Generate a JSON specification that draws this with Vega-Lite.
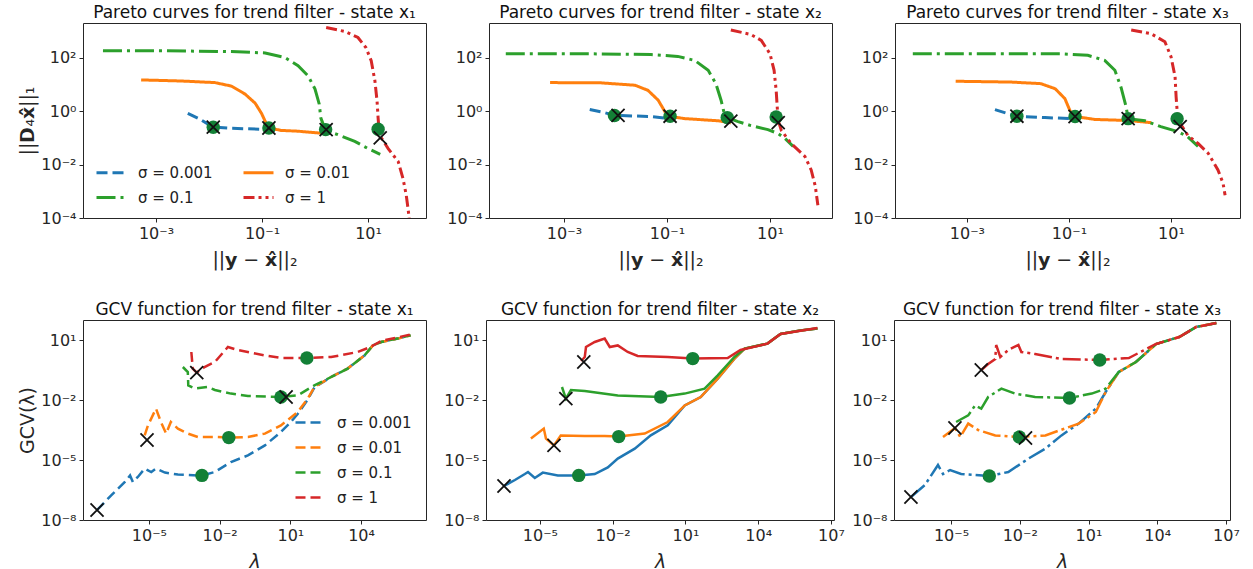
{
"$schema": "https://vega.github.io/schema/vega-lite/v6.json",
"padding": {"left": 18, "top": 3, "right": 5, "bottom": 0},
"config": {
 "font": "DejaVu Sans",
 "view": {"stroke": "#262626", "strokeWidth": 1},
 "axis": {"domain": false, "grid": false, "tickColor": "#262626", "tickSize": 4, "tickWidth": 1, "labelFontSize": 16, "labelColor": "#262626", "titleFontSize": 19, "titleFontWeight": "normal", "titleColor": "#262626", "labelPadding": 3, "titlePadding": 3},
 "axisX": {"titlePadding": 9},
 "title": {"fontSize": 17, "fontWeight": "normal", "color": "#111111", "offset": 1},
 "legend": {"labelFontSize": 15, "labelColor": "#222222", "padding": 0, "symbolType": "stroke", "symbolSize": 900, "symbolStrokeWidth": 3, "rowPadding": 5, "columnPadding": 24, "labelOffset": 10}
},
"datasets": {
"L": [
{"p":"a","s":"0.001","x":3.98e-3,"y":0.832},{"p":"a","s":"0.001","x":6.166e-3,"y":0.5495},{"p":"a","s":"0.001","x":1.202e-2,"y":0.2512},{"p":"a","s":"0.001","x":2.63e-2,"y":0.2291},{"p":"a","s":"0.001","x":0.1148,"y":0.2089},{"p":"a","s":"0.001","x":0.1778,"y":0.1905},
{"p":"a","s":"0.01","x":5.248e-4,"y":14.79},{"p":"a","s":"0.01","x":2.951e-3,"y":13.49},{"p":"a","s":"0.01","x":1.288e-2,"y":11.75},{"p":"a","s":"0.01","x":2.63e-2,"y":8.71},{"p":"a","s":"0.01","x":4.786e-2,"y":4.365},{"p":"a","s":"0.01","x":7.413e-2,"y":2.0},{"p":"a","s":"0.01","x":9.772e-2,"y":0.832},{"p":"a","s":"0.01","x":0.1148,"y":0.4169},{"p":"a","s":"0.01","x":0.1349,"y":0.2344},{"p":"a","s":"0.01","x":0.2291,"y":0.1905},{"p":"a","s":"0.01","x":0.4786,"y":0.1778},{"p":"a","s":"0.01","x":1.413,"y":0.1479},
{"p":"a","s":"0.1","x":1.0e-4,"y":182},{"p":"a","s":"0.1","x":1.479e-3,"y":182},{"p":"a","s":"0.1","x":2.63e-2,"y":169.8},{"p":"a","s":"0.1","x":0.1148,"y":151.4},{"p":"a","s":"0.1","x":0.2692,"y":102.3},{"p":"a","s":"0.1","x":0.4786,"y":50.1},{"p":"a","s":"0.1","x":0.7413,"y":20.9},{"p":"a","s":"0.1","x":1.0,"y":6.761},{"p":"a","s":"0.1","x":1.202,"y":1.82},{"p":"a","s":"0.1","x":1.288,"y":0.5495},{"p":"a","s":"0.1","x":1.479,"y":0.2692},{"p":"a","s":"0.1","x":1.622,"y":0.1862},{"p":"a","s":"0.1","x":2.692,"y":0.1318},{"p":"a","s":"0.1","x":5.623,"y":0.0741},{"p":"a","s":"0.1","x":10.0,"y":0.0398},{"p":"a","s":"0.1","x":16.98,"y":0.024},
{"p":"a","s":"1","x":1.622,"y":1349},{"p":"a","s":"1","x":3.715,"y":955},{"p":"a","s":"1","x":6.457,"y":575},{"p":"a","s":"1","x":9.12,"y":240},{"p":"a","s":"1","x":11.48,"y":77.6},{"p":"a","s":"1","x":13.49,"y":13.49},{"p":"a","s":"1","x":14.79,"y":2.399},{"p":"a","s":"1","x":15.49,"y":0.5495},{"p":"a","s":"1","x":16.22,"y":0.1778},{"p":"a","s":"1","x":17.78,"y":0.1},{"p":"a","s":"1","x":23.99,"y":0.0398},{"p":"a","s":"1","x":37.15,"y":0.0129},{"p":"a","s":"1","x":45.71,"y":2.951e-3},{"p":"a","s":"1","x":52.48,"y":7.413e-4},{"p":"a","s":"1","x":58.88,"y":1.288e-4},{"p":"a","s":"1","x":63.1,"y":3.16e-5},
{"p":"b","s":"0.001","x":3.162e-3,"y":1.148},{"p":"b","s":"0.001","x":6.31e-3,"y":0.871},{"p":"b","s":"0.001","x":9.77e-3,"y":0.6918},{"p":"b","s":"0.001","x":4.898e-2,"y":0.631},{"p":"b","s":"0.001","x":0.1202,"y":0.5248},
{"p":"b","s":"0.01","x":5.37e-4,"y":11.75},{"p":"b","s":"0.01","x":5.248e-3,"y":11.48},{"p":"b","s":"0.01","x":2.399e-2,"y":9.333},{"p":"b","s":"0.01","x":4.266e-2,"y":6.026},{"p":"b","s":"0.01","x":6.761e-2,"y":2.57},{"p":"b","s":"0.01","x":9.12e-2,"y":0.955},{"p":"b","s":"0.01","x":0.1148,"y":0.631},{"p":"b","s":"0.01","x":0.2239,"y":0.5248},{"p":"b","s":"0.01","x":1.0,"y":0.4365},{"p":"b","s":"0.01","x":1.738,"y":0.3631},
{"p":"b","s":"0.1","x":7.413e-5,"y":141.3},{"p":"b","s":"0.1","x":2.57e-3,"y":141.3},{"p":"b","s":"0.1","x":4.898e-2,"y":131.8},{"p":"b","s":"0.1","x":0.1622,"y":112.2},{"p":"b","s":"0.1","x":0.3467,"y":79.4},{"p":"b","s":"0.1","x":0.631,"y":33.9},{"p":"b","s":"0.1","x":0.891,"y":10.72},{"p":"b","s":"0.1","x":1.122,"y":2.57},{"p":"b","s":"0.1","x":1.318,"y":0.708},{"p":"b","s":"0.1","x":1.479,"y":0.575},{"p":"b","s":"0.1","x":2.399,"y":0.4074},{"p":"b","s":"0.1","x":4.266,"y":0.2884},{"p":"b","s":"0.1","x":9.12,"y":0.2042},{"p":"b","s":"0.1","x":14.45,"y":0.1445},{"p":"b","s":"0.1","x":19.5,"y":0.0955},{"p":"b","s":"0.1","x":28.18,"y":0.0479},
{"p":"b","s":"1","x":1.738,"y":1096},{"p":"b","s":"1","x":4.266,"y":741},{"p":"b","s":"1","x":6.761,"y":447},{"p":"b","s":"1","x":10.0,"y":141.3},{"p":"b","s":"1","x":12.02,"y":33.9},{"p":"b","s":"1","x":13.18,"y":6.026},{"p":"b","s":"1","x":13.8,"y":1.479},{"p":"b","s":"1","x":14.45,"y":0.4467},{"p":"b","s":"1","x":16.6,"y":0.1905},{"p":"b","s":"1","x":25.7,"y":0.0617},{"p":"b","s":"1","x":47.86,"y":0.01995},{"p":"b","s":"1","x":63.1,"y":6.31e-3},{"p":"b","s":"1","x":75.86,"y":1.549e-3},{"p":"b","s":"1","x":85.1,"y":3.02e-4},
{"p":"c","s":"0.001","x":3.548e-3,"y":1.148},{"p":"c","s":"0.001","x":6.31e-3,"y":0.8128},{"p":"c","s":"0.001","x":9.55e-3,"y":0.6457},{"p":"c","s":"0.001","x":3.388e-2,"y":0.5754},{"p":"c","s":"0.001","x":0.1096,"y":0.5248},
{"p":"c","s":"0.01","x":6.026e-4,"y":13.18},{"p":"c","s":"0.01","x":7.244e-3,"y":12.3},{"p":"c","s":"0.01","x":2.818e-2,"y":10.72},{"p":"c","s":"0.01","x":5.37e-2,"y":6.918},{"p":"c","s":"0.01","x":8.318e-2,"y":2.951},{"p":"c","s":"0.01","x":0.1047,"y":1.047},{"p":"c","s":"0.01","x":0.1318,"y":0.631},{"p":"c","s":"0.01","x":0.3236,"y":0.4898},{"p":"c","s":"0.01","x":1.445,"y":0.4467},{"p":"c","s":"0.01","x":4.074,"y":0.3715},
{"p":"c","s":"0.1","x":8.71e-5,"y":141.3},{"p":"c","s":"0.1","x":3.548e-3,"y":141.3},{"p":"c","s":"0.1","x":6.918e-2,"y":141.3},{"p":"c","s":"0.1","x":0.2344,"y":123},{"p":"c","s":"0.1","x":0.5012,"y":79.4},{"p":"c","s":"0.1","x":0.7943,"y":33.9},{"p":"c","s":"0.1","x":1.047,"y":7.943},{"p":"c","s":"0.1","x":1.318,"y":1.479},{"p":"c","s":"0.1","x":1.445,"y":0.5248},{"p":"c","s":"0.1","x":3.09,"y":0.4365},{"p":"c","s":"0.1","x":6.31,"y":0.263},{"p":"c","s":"0.1","x":13.8,"y":0.1698},{"p":"c","s":"0.1","x":21.38,"y":0.1096},{"p":"c","s":"0.1","x":33.88,"y":0.0479},
{"p":"c","s":"1","x":1.66,"y":1096},{"p":"c","s":"1","x":4.074,"y":794},{"p":"c","s":"1","x":7.586,"y":398},{"p":"c","s":"1","x":10.0,"y":109.6},{"p":"c","s":"1","x":12.02,"y":19.5},{"p":"c","s":"1","x":12.59,"y":3.467},{"p":"c","s":"1","x":13.18,"y":1.047},{"p":"c","s":"1","x":15.14,"y":0.3467},{"p":"c","s":"1","x":21.38,"y":0.123},{"p":"c","s":"1","x":33.88,"y":0.0617},{"p":"c","s":"1","x":53.7,"y":0.0263},{"p":"c","s":"1","x":83.18,"y":6.31e-3},{"p":"c","s":"1","x":104.7,"y":2.0e-3},{"p":"c","s":"1","x":114.8,"y":7.08e-4},
{"p":"d","s":"0.001","x":6.31e-8,"y":3.162e-8},{"p":"d","s":"0.001","x":2.512e-7,"y":1.698e-7},{"p":"d","s":"0.001","x":9.55e-7,"y":7.943e-7},{"p":"d","s":"0.001","x":1.585e-6,"y":1.698e-6},{"p":"d","s":"0.001","x":2.089e-6,"y":7.943e-7},{"p":"d","s":"0.001","x":3.388e-6,"y":1.413e-6},{"p":"d","s":"0.001","x":6.607e-6,"y":3.715e-6},{"p":"d","s":"0.001","x":1.259e-5,"y":2.512e-6},{"p":"d","s":"0.001","x":1.995e-5,"y":3.715e-6},{"p":"d","s":"0.001","x":4.786e-5,"y":2.344e-6},{"p":"d","s":"0.001","x":1.698e-4,"y":1.862e-6},{"p":"d","s":"0.001","x":1.202e-3,"y":1.698e-6},{"p":"d","s":"0.001","x":1.778e-3,"y":1.698e-6},{"p":"d","s":"0.001","x":6.31e-3,"y":2.512e-6},{"p":"d","s":"0.001","x":3.02e-2,"y":7.943e-6},{"p":"d","s":"0.001","x":0.1585,"y":1.698e-5},{"p":"d","s":"0.001","x":0.8318,"y":5.37e-5},{"p":"d","s":"0.001","x":3.981,"y":2.512e-4},{"p":"d","s":"0.001","x":10.47,"y":7.943e-4},{"p":"d","s":"0.001","x":20.42,"y":1.995e-3},{"p":"d","s":"0.001","x":54.95,"y":1.047e-2},{"p":"d","s":"0.001","x":104.7,"y":4.169e-2},{"p":"d","s":"0.001","x":537,"y":0.1413},{"p":"d","s":"0.001","x":2692,"y":0.3715},{"p":"d","s":"0.001","x":14125,"y":1.698},{"p":"d","s":"0.001","x":31623,"y":5.37},{"p":"d","s":"0.001","x":70795,"y":7.943},{"p":"d","s":"0.001","x":354813,"y":11.75},{"p":"d","s":"0.001","x":1258925,"y":16.98},
{"p":"d","s":"0.01","x":6.607e-6,"y":1.698e-4},{"p":"d","s":"0.01","x":9.12e-6,"y":5.37e-4},{"p":"d","s":"0.01","x":1.995e-5,"y":3.715e-3},{"p":"d","s":"0.01","x":3.236e-5,"y":7.943e-4},{"p":"d","s":"0.01","x":5.37e-5,"y":2.089e-4},{"p":"d","s":"0.01","x":8.511e-5,"y":7.943e-4},{"p":"d","s":"0.01","x":1.698e-4,"y":3.715e-4},{"p":"d","s":"0.01","x":4.467e-4,"y":2.089e-4},{"p":"d","s":"0.01","x":1.202e-3,"y":1.413e-4},{"p":"d","s":"0.01","x":6.31e-3,"y":1.413e-4},{"p":"d","s":"0.01","x":2.455e-2,"y":1.318e-4},{"p":"d","s":"0.01","x":0.1585,"y":1.413e-4},{"p":"d","s":"0.01","x":0.8318,"y":2.089e-4},{"p":"d","s":"0.01","x":3.981,"y":5.37e-4},{"p":"d","s":"0.01","x":20.42,"y":2.512e-3},{"p":"d","s":"0.01","x":54.95,"y":1.175e-2},{"p":"d","s":"0.01","x":104.7,"y":4.467e-2},{"p":"d","s":"0.01","x":537,"y":0.1413},{"p":"d","s":"0.01","x":2692,"y":0.3715},{"p":"d","s":"0.01","x":14125,"y":1.698},{"p":"d","s":"0.01","x":31623,"y":5.37},{"p":"d","s":"0.01","x":70795,"y":7.943},{"p":"d","s":"0.01","x":354813,"y":11.75},{"p":"d","s":"0.01","x":1258925,"y":16.98},
{"p":"d","s":"0.1","x":2.754e-4,"y":0.4467},{"p":"d","s":"0.1","x":4.467e-4,"y":0.2512},{"p":"d","s":"0.1","x":4.677e-4,"y":5.37e-2},{"p":"d","s":"0.1","x":8.913e-4,"y":3.715e-2},{"p":"d","s":"0.1","x":3.162e-3,"y":4.467e-2},{"p":"d","s":"0.1","x":6.31e-3,"y":3.162e-2},{"p":"d","s":"0.1","x":3.02e-2,"y":2.089e-2},{"p":"d","s":"0.1","x":0.1585,"y":1.585e-2},{"p":"d","s":"0.1","x":3.981,"y":1.413e-2},{"p":"d","s":"0.1","x":20.42,"y":1.698e-2},{"p":"d","s":"0.1","x":104.7,"y":5.37e-2},{"p":"d","s":"0.1","x":537,"y":0.1413},{"p":"d","s":"0.1","x":2692,"y":0.3715},{"p":"d","s":"0.1","x":14125,"y":1.698},{"p":"d","s":"0.1","x":31623,"y":5.37},{"p":"d","s":"0.1","x":70795,"y":7.943},{"p":"d","s":"0.1","x":354813,"y":11.75},{"p":"d","s":"0.1","x":1258925,"y":16.98},
{"p":"d","s":"1","x":6.31e-4,"y":2.512},{"p":"d","s":"1","x":7.244e-4,"y":0.3715},{"p":"d","s":"1","x":1.072e-3,"y":0.2344},{"p":"d","s":"1","x":2.291e-3,"y":0.4467},{"p":"d","s":"1","x":6.31e-3,"y":0.7943},{"p":"d","s":"1","x":2.239e-2,"y":4.467},{"p":"d","s":"1","x":5.888e-2,"y":3.162},{"p":"d","s":"1","x":0.8318,"y":1.698},{"p":"d","s":"1","x":3.981,"y":1.259},{"p":"d","s":"1","x":50.12,"y":1.259},{"p":"d","s":"1","x":537,"y":1.413},{"p":"d","s":"1","x":7244,"y":2.512},{"p":"d","s":"1","x":25119,"y":4.467},{"p":"d","s":"1","x":70795,"y":8.913},{"p":"d","s":"1","x":1258925,"y":18.62},
{"p":"e","s":"0.001","x":3.311e-7,"y":5.012e-7},{"p":"e","s":"0.001","x":9.333e-7,"y":1e-6},{"p":"e","s":"0.001","x":2.399e-6,"y":1.995e-6},{"p":"e","s":"0.001","x":3.236e-6,"y":2.512e-6},{"p":"e","s":"0.001","x":6.166e-6,"y":1.259e-6},{"p":"e","s":"0.001","x":1.318e-5,"y":2.344e-6},{"p":"e","s":"0.001","x":5.495e-5,"y":1.698e-6},{"p":"e","s":"0.001","x":3.981e-4,"y":1.698e-6},{"p":"e","s":"0.001","x":1.82e-3,"y":1.995e-6},{"p":"e","s":"0.001","x":6.31e-3,"y":4.266e-6},{"p":"e","s":"0.001","x":1.622e-2,"y":1.175e-5},{"p":"e","s":"0.001","x":8.128e-2,"y":3.715e-5},{"p":"e","s":"0.001","x":0.3715,"y":1.698e-4},{"p":"e","s":"0.001","x":1.862,"y":5.37e-4},{"p":"e","s":"0.001","x":9.333,"y":5.37e-3},{"p":"e","s":"0.001","x":42.66,"y":1.413e-2},{"p":"e","s":"0.001","x":213.8,"y":0.1175},{"p":"e","s":"0.001","x":1047,"y":1.175},{"p":"e","s":"0.001","x":2754,"y":3.715},{"p":"e","s":"0.001","x":23988,"y":6.607},{"p":"e","s":"0.001","x":83176,"y":19.95},{"p":"e","s":"0.001","x":549541,"y":30.2},{"p":"e","s":"0.001","x":2754229,"y":37.15},
{"p":"e","s":"0.01","x":4.266e-6,"y":1.175e-4},{"p":"e","s":"0.01","x":1.445e-5,"y":3.715e-4},{"p":"e","s":"0.01","x":1.778e-5,"y":1.175e-4},{"p":"e","s":"0.01","x":3.802e-5,"y":5.37e-5},{"p":"e","s":"0.01","x":7.244e-5,"y":1.698e-4},{"p":"e","s":"0.01","x":7.079e-4,"y":1.585e-4},{"p":"e","s":"0.01","x":4.677e-3,"y":1.585e-4},{"p":"e","s":"0.01","x":1.778e-2,"y":1.479e-4},{"p":"e","s":"0.01","x":0.2089,"y":2.089e-4},{"p":"e","s":"0.01","x":1.862,"y":7.943e-4},{"p":"e","s":"0.01","x":9.333,"y":5.37e-3},{"p":"e","s":"0.01","x":42.66,"y":1.413e-2},{"p":"e","s":"0.01","x":213.8,"y":0.1175},{"p":"e","s":"0.01","x":1047,"y":1.175},{"p":"e","s":"0.01","x":2754,"y":3.715},{"p":"e","s":"0.01","x":23988,"y":6.607},{"p":"e","s":"0.01","x":83176,"y":19.95},{"p":"e","s":"0.01","x":549541,"y":30.2},{"p":"e","s":"0.01","x":2754229,"y":37.15},
{"p":"e","s":"0.1","x":8.128e-5,"y":4.467e-2},{"p":"e","s":"0.1","x":1.175e-4,"y":1.175e-2},{"p":"e","s":"0.1","x":1.905e-4,"y":3.162e-2},{"p":"e","s":"0.1","x":7.079e-4,"y":2.818e-2},{"p":"e","s":"0.1","x":1.622e-2,"y":1.698e-2},{"p":"e","s":"0.1","x":0.955,"y":1.413e-2},{"p":"e","s":"0.1","x":9.333,"y":2.089e-2},{"p":"e","s":"0.1","x":61.66,"y":3.715e-2},{"p":"e","s":"0.1","x":213.8,"y":0.1698},{"p":"e","s":"0.1","x":1047,"y":1.413},{"p":"e","s":"0.1","x":2754,"y":3.715},{"p":"e","s":"0.1","x":23988,"y":6.607},{"p":"e","s":"0.1","x":83176,"y":19.95},{"p":"e","s":"0.1","x":549541,"y":30.2},{"p":"e","s":"0.1","x":2754229,"y":37.15},
{"p":"e","s":"1","x":5.012e-4,"y":0.8913},{"p":"e","s":"1","x":7.079e-4,"y":1.413},{"p":"e","s":"1","x":7.943e-4,"y":4.467},{"p":"e","s":"1","x":1.82e-3,"y":7.943},{"p":"e","s":"1","x":4.677e-3,"y":11.75},{"p":"e","s":"1","x":7.586e-3,"y":4.467},{"p":"e","s":"1","x":1.622e-2,"y":5.37},{"p":"e","s":"1","x":4.169e-2,"y":2.512},{"p":"e","s":"1","x":0.1072,"y":1.585},{"p":"e","s":"1","x":1.862,"y":1.413},{"p":"e","s":"1","x":19.95,"y":1.175},{"p":"e","s":"1","x":549.5,"y":1.259},{"p":"e","s":"1","x":1862,"y":3.162},{"p":"e","s":"1","x":23988,"y":6.607},{"p":"e","s":"1","x":83176,"y":19.95},{"p":"e","s":"1","x":2754229,"y":39.81},
{"p":"f","s":"0.001","x":1.778e-7,"y":1.413e-7},{"p":"f","s":"0.001","x":7.244e-7,"y":5.623e-7},{"p":"f","s":"0.001","x":2.692e-6,"y":5.623e-6},{"p":"f","s":"0.001","x":4.467e-6,"y":1.995e-6},{"p":"f","s":"0.001","x":9.12e-6,"y":3.162e-6},{"p":"f","s":"0.001","x":2.754e-5,"y":1.995e-6},{"p":"f","s":"0.001","x":4.677e-4,"y":1.585e-6},{"p":"f","s":"0.001","x":3.162e-3,"y":2.512e-6},{"p":"f","s":"0.001","x":2.399e-2,"y":1.175e-5},{"p":"f","s":"0.001","x":0.1318,"y":3.715e-5},{"p":"f","s":"0.001","x":0.6607,"y":1.698e-4},{"p":"f","s":"0.001","x":3.715,"y":6.607e-4},{"p":"f","s":"0.001","x":20.89,"y":3.715e-3},{"p":"f","s":"0.001","x":56.23,"y":2.512e-2},{"p":"f","s":"0.001","x":208.9,"y":0.2512},{"p":"f","s":"0.001","x":1175,"y":0.7943},{"p":"f","s":"0.001","x":8913,"y":6.31},{"p":"f","s":"0.001","x":91201,"y":14.13},{"p":"f","s":"0.001","x":501187,"y":44.67},{"p":"f","s":"0.001","x":3801894,"y":70.79},
{"p":"f","s":"0.01","x":4.467e-6,"y":1.413e-4},{"p":"f","s":"0.01","x":1.479e-5,"y":3.981e-4},{"p":"f","s":"0.01","x":2.512e-5,"y":1.413e-4},{"p":"f","s":"0.01","x":5.623e-5,"y":6.607e-4},{"p":"f","s":"0.01","x":1.514e-4,"y":3.162e-4},{"p":"f","s":"0.01","x":8.511e-4,"y":1.698e-4},{"p":"f","s":"0.01","x":9.55e-3,"y":1.413e-4},{"p":"f","s":"0.01","x":0.1318,"y":1.698e-4},{"p":"f","s":"0.01","x":3.715,"y":6.607e-4},{"p":"f","s":"0.01","x":20.89,"y":2.512e-3},{"p":"f","s":"0.01","x":56.23,"y":2.512e-2},{"p":"f","s":"0.01","x":208.9,"y":0.2512},{"p":"f","s":"0.01","x":1175,"y":0.7943},{"p":"f","s":"0.01","x":8913,"y":6.31},{"p":"f","s":"0.01","x":91201,"y":14.13},{"p":"f","s":"0.01","x":501187,"y":44.67},{"p":"f","s":"0.01","x":3801894,"y":70.79},
{"p":"f","s":"0.1","x":1.66e-5,"y":7.943e-4},{"p":"f","s":"0.1","x":5.623e-5,"y":1.698e-3},{"p":"f","s":"0.1","x":1.122e-4,"y":5.37e-3},{"p":"f","s":"0.1","x":2.089e-4,"y":3.715e-3},{"p":"f","s":"0.1","x":4.169e-4,"y":1.413e-2},{"p":"f","s":"0.1","x":1.585e-3,"y":3.715e-2},{"p":"f","s":"0.1","x":6.31e-3,"y":2.089e-2},{"p":"f","s":"0.1","x":4.677e-2,"y":1.413e-2},{"p":"f","s":"0.1","x":1.479,"y":1.259e-2},{"p":"f","s":"0.1","x":13.8,"y":2.089e-2},{"p":"f","s":"0.1","x":56.23,"y":3.715e-2},{"p":"f","s":"0.1","x":208.9,"y":0.2512},{"p":"f","s":"0.1","x":1175,"y":0.7943},{"p":"f","s":"0.1","x":8913,"y":6.31},{"p":"f","s":"0.1","x":91201,"y":14.13},{"p":"f","s":"0.1","x":501187,"y":44.67},{"p":"f","s":"0.1","x":3801894,"y":70.79},
{"p":"f","s":"1","x":2.089e-4,"y":0.3162},{"p":"f","s":"1","x":4.169e-4,"y":0.631},{"p":"f","s":"1","x":8.511e-4,"y":1.122},{"p":"f","s":"1","x":9.333e-4,"y":5.623},{"p":"f","s":"1","x":1.413e-3,"y":1.413},{"p":"f","s":"1","x":3.162e-3,"y":3.162},{"p":"f","s":"1","x":8.71e-3,"y":5.623},{"p":"f","s":"1","x":1.175e-2,"y":2.512},{"p":"f","s":"1","x":4.677e-2,"y":1.995},{"p":"f","s":"1","x":0.6607,"y":1.122},{"p":"f","s":"1","x":30.9,"y":1.0},{"p":"f","s":"1","x":575.4,"y":1.259},{"p":"f","s":"1","x":8913,"y":6.31},{"p":"f","s":"1","x":91201,"y":14.13},{"p":"f","s":"1","x":501187,"y":44.67},{"p":"f","s":"1","x":3801894,"y":70.79}
],
"P": [
{"p":"a","k":"o","x":1.202e-2,"y":0.2512},{"p":"a","k":"x","x":1.202e-2,"y":0.2512},{"p":"a","k":"o","x":0.1349,"y":0.2344},{"p":"a","k":"x","x":0.1349,"y":0.2344},{"p":"a","k":"o","x":1.585,"y":0.2042},{"p":"a","k":"x","x":1.622,"y":0.2042},{"p":"a","k":"o","x":15.49,"y":0.2089},{"p":"a","k":"x","x":16.98,"y":0.1},
{"p":"b","k":"o","x":9.55e-3,"y":0.6918},{"p":"b","k":"x","x":1.122e-2,"y":0.6918},{"p":"b","k":"o","x":0.1148,"y":0.6457},{"p":"b","k":"x","x":0.1148,"y":0.6457},{"p":"b","k":"o","x":1.479,"y":0.575},{"p":"b","k":"x","x":1.738,"y":0.4266},{"p":"b","k":"o","x":13.18,"y":0.6026},{"p":"b","k":"x","x":14.45,"y":0.3715},
{"p":"c","k":"o","x":9.55e-3,"y":0.6457},{"p":"c","k":"x","x":9.55e-3,"y":0.6457},{"p":"c","k":"o","x":0.1318,"y":0.631},{"p":"c","k":"x","x":0.1318,"y":0.631},{"p":"c","k":"o","x":1.445,"y":0.5248},{"p":"c","k":"x","x":1.445,"y":0.5248},{"p":"c","k":"o","x":13.18,"y":0.5248},{"p":"c","k":"x","x":15.14,"y":0.263},
{"p":"d","k":"x","x":6.31e-8,"y":3.162e-8},{"p":"d","k":"o","x":1.778e-3,"y":1.698e-6},{"p":"d","k":"x","x":8.318e-6,"y":1e-4},{"p":"d","k":"o","x":2.455e-2,"y":1.318e-4},{"p":"d","k":"o","x":3.981,"y":1.413e-2},{"p":"d","k":"x","x":6.607,"y":1.413e-2},{"p":"d","k":"x","x":1.072e-3,"y":0.2344},{"p":"d","k":"o","x":50.12,"y":1.259},
{"p":"e","k":"x","x":3.311e-7,"y":5.012e-7},{"p":"e","k":"o","x":3.981e-4,"y":1.698e-6},{"p":"e","k":"x","x":3.802e-5,"y":5.37e-5},{"p":"e","k":"o","x":1.778e-2,"y":1.479e-4},{"p":"e","k":"x","x":1.175e-4,"y":1.175e-2},{"p":"e","k":"o","x":0.955,"y":1.413e-2},{"p":"e","k":"x","x":6.457e-4,"y":0.7943},{"p":"e","k":"o","x":19.95,"y":1.175},
{"p":"f","k":"x","x":1.778e-7,"y":1.413e-7},{"p":"f","k":"o","x":4.677e-4,"y":1.585e-6},{"p":"f","k":"x","x":1.479e-5,"y":3.981e-4},{"p":"f","k":"o","x":9.55e-3,"y":1.413e-4},{"p":"f","k":"x","x":1.778e-2,"y":1.259e-4},{"p":"f","k":"o","x":1.479,"y":1.259e-2},{"p":"f","k":"x","x":2.089e-4,"y":0.3162},{"p":"f","k":"o","x":30.9,"y":1.0}
]
},
"vconcat": [
{
"hconcat": [
{
"width": 343, "height": 195,
"title": "Pareto curves for trend filter - state x₁",
"encoding": {
 "x": {"field": "x", "type": "quantitative", "scale": {"type": "log", "domain": [4.2e-5, 124], "nice": false}, "axis": {"values": [0.001, 0.1, 10], "labelExpr": "['10⁻⁸','10⁻⁷','10⁻⁶','10⁻⁵','10⁻⁴','10⁻³','10⁻²','10⁻¹','10⁰','10¹','10²','10³','10⁴','10⁵','10⁶','10⁷'][round(log(datum.value)/LN10)+8]", "title": "||𝘆 − 𝘅̂||₂"}},
 "y": {"field": "y", "type": "quantitative", "scale": {"type": "log", "domain": [1e-4, 2000], "nice": false}, "axis": {"values": [1e-4, 0.01, 1, 100], "labelExpr": "['10⁻⁸','10⁻⁷','10⁻⁶','10⁻⁵','10⁻⁴','10⁻³','10⁻²','10⁻¹','10⁰','10¹','10²','10³','10⁴','10⁵','10⁶','10⁷'][round(log(datum.value)/LN10)+8]", "title": "||𝗗₄𝘅̂||₁"}}
},
"layer": [
 {"data": {"name": "L"}, "transform": [{"filter": "datum.p == 'a'"}], "mark": {"type": "line", "strokeWidth": 3, "clip": true},
  "encoding": {
   "color": {"field": "s", "type": "nominal", "scale": {"domain": ["0.001","0.1","0.01","1"], "range": ["#1f77b4","#2ca02c","#ff7f0e","#d62728"]}, "legend": {"title": null, "orient": "bottom-left", "offset": 12, "columns": 2, "rowPadding": -8, "labelExpr": "'σ = ' + datum.label"}},
   "strokeDash": {"field": "s", "type": "nominal", "scale": {"domain": ["0.001","0.1","0.01","1"], "range": [[11,5],[19,5,3,5],[1,0],[11,4,3,4,3,4]]}, "legend": {"title": null, "orient": "bottom-left", "offset": 12, "columns": 2, "rowPadding": -8, "labelExpr": "'σ = ' + datum.label"}}
  }},
 {"data": {"name": "P"}, "transform": [{"filter": "datum.p == 'a' && datum.k == 'o'"}], "mark": {"type": "point", "shape": "circle", "filled": true, "color": "#138036", "opacity": 1, "size": 180}},
 {"data": {"name": "P"}, "transform": [{"filter": "datum.p == 'a' && datum.k == 'x'"}], "mark": {"type": "point", "shape": "M-1,-1L1,1M-1,1L1,-1", "filled": false, "color": "#111111", "strokeWidth": 1.8, "opacity": 1, "size": 170}}
]
},
{
"width": 343, "height": 195,
"title": "Pareto curves for trend filter - state x₂",
"encoding": {
 "x": {"field": "x", "type": "quantitative", "scale": {"type": "log", "domain": [3.5e-5, 160], "nice": false}, "axis": {"values": [0.001, 0.1, 10], "labelExpr": "['10⁻⁸','10⁻⁷','10⁻⁶','10⁻⁵','10⁻⁴','10⁻³','10⁻²','10⁻¹','10⁰','10¹','10²','10³','10⁴','10⁵','10⁶','10⁷'][round(log(datum.value)/LN10)+8]", "title": "||𝘆 − 𝘅̂||₂"}},
 "y": {"field": "y", "type": "quantitative", "scale": {"type": "log", "domain": [1e-4, 2000], "nice": false}, "axis": {"values": [1e-4, 0.01, 1, 100], "labelExpr": "['10⁻⁸','10⁻⁷','10⁻⁶','10⁻⁵','10⁻⁴','10⁻³','10⁻²','10⁻¹','10⁰','10¹','10²','10³','10⁴','10⁵','10⁶','10⁷'][round(log(datum.value)/LN10)+8]", "title": null}}
},
"layer": [
 {"data": {"name": "L"}, "transform": [{"filter": "datum.p == 'b'"}], "mark": {"type": "line", "strokeWidth": 3, "clip": true},
  "encoding": {
   "color": {"field": "s", "type": "nominal", "scale": {"domain": ["0.001","0.1","0.01","1"], "range": ["#1f77b4","#2ca02c","#ff7f0e","#d62728"]}, "legend": null},
   "strokeDash": {"field": "s", "type": "nominal", "scale": {"domain": ["0.001","0.1","0.01","1"], "range": [[11,5],[19,5,3,5],[1,0],[11,4,3,4,3,4]]}, "legend": null}
  }},
 {"data": {"name": "P"}, "transform": [{"filter": "datum.p == 'b' && datum.k == 'o'"}], "mark": {"type": "point", "shape": "circle", "filled": true, "color": "#138036", "opacity": 1, "size": 180}},
 {"data": {"name": "P"}, "transform": [{"filter": "datum.p == 'b' && datum.k == 'x'"}], "mark": {"type": "point", "shape": "M-1,-1L1,1M-1,1L1,-1", "filled": false, "color": "#111111", "strokeWidth": 1.8, "opacity": 1, "size": 170}}
]
},
{
"width": 345, "height": 195,
"title": "Pareto curves for trend filter - state x₃",
"encoding": {
 "x": {"field": "x", "type": "quantitative", "scale": {"type": "log", "domain": [3.9e-5, 225], "nice": false}, "axis": {"values": [0.001, 0.1, 10], "labelExpr": "['10⁻⁸','10⁻⁷','10⁻⁶','10⁻⁵','10⁻⁴','10⁻³','10⁻²','10⁻¹','10⁰','10¹','10²','10³','10⁴','10⁵','10⁶','10⁷'][round(log(datum.value)/LN10)+8]", "title": "||𝘆 − 𝘅̂||₂"}},
 "y": {"field": "y", "type": "quantitative", "scale": {"type": "log", "domain": [1e-4, 2000], "nice": false}, "axis": {"values": [1e-4, 0.01, 1, 100], "labelExpr": "['10⁻⁸','10⁻⁷','10⁻⁶','10⁻⁵','10⁻⁴','10⁻³','10⁻²','10⁻¹','10⁰','10¹','10²','10³','10⁴','10⁵','10⁶','10⁷'][round(log(datum.value)/LN10)+8]", "title": null}}
},
"layer": [
 {"data": {"name": "L"}, "transform": [{"filter": "datum.p == 'c'"}], "mark": {"type": "line", "strokeWidth": 3, "clip": true},
  "encoding": {
   "color": {"field": "s", "type": "nominal", "scale": {"domain": ["0.001","0.1","0.01","1"], "range": ["#1f77b4","#2ca02c","#ff7f0e","#d62728"]}, "legend": null},
   "strokeDash": {"field": "s", "type": "nominal", "scale": {"domain": ["0.001","0.1","0.01","1"], "range": [[11,5],[19,5,3,5],[1,0],[11,4,3,4,3,4]]}, "legend": null}
  }},
 {"data": {"name": "P"}, "transform": [{"filter": "datum.p == 'c' && datum.k == 'o'"}], "mark": {"type": "point", "shape": "circle", "filled": true, "color": "#138036", "opacity": 1, "size": 180}},
 {"data": {"name": "P"}, "transform": [{"filter": "datum.p == 'c' && datum.k == 'x'"}], "mark": {"type": "point", "shape": "M-1,-1L1,1M-1,1L1,-1", "filled": false, "color": "#111111", "strokeWidth": 1.8, "opacity": 1, "size": 170}}
]
}
],
"spacing": 63, "bounds": "flush",
"resolve": {"scale": {"color": "independent", "strokeDash": "independent", "x": "independent", "y": "independent"}, "legend": {"color": "independent", "strokeDash": "independent"}}
},
{
"hconcat": [
{
"width": 343, "height": 200,
"title": "GCV function for trend filter - state x₁",
"encoding": {
 "x": {"field": "x", "type": "quantitative", "scale": {"type": "log", "domain": [1.6e-8, 5.68e6], "nice": false}, "axis": {"values": [1e-5, 0.01, 10, 10000], "labelExpr": "['10⁻⁸','10⁻⁷','10⁻⁶','10⁻⁵','10⁻⁴','10⁻³','10⁻²','10⁻¹','10⁰','10¹','10²','10³','10⁴','10⁵','10⁶','10⁷'][round(log(datum.value)/LN10)+8]", "title": "λ", "titleFontStyle": "italic"}},
 "y": {"field": "y", "type": "quantitative", "scale": {"type": "log", "domain": [1e-8, 100], "nice": false}, "axis": {"values": [1e-8, 1e-5, 0.01, 10], "labelExpr": "['10⁻⁸','10⁻⁷','10⁻⁶','10⁻⁵','10⁻⁴','10⁻³','10⁻²','10⁻¹','10⁰','10¹','10²','10³','10⁴','10⁵','10⁶','10⁷'][round(log(datum.value)/LN10)+8]", "title": "GCV(λ)"}}
},
"layer": [
 {"data": {"name": "L"}, "transform": [{"filter": "datum.p == 'd'"}], "mark": {"type": "line", "strokeWidth": 2.5, "clip": true, "strokeDash": [10,5]},
  "encoding": {
   "color": {"field": "s", "type": "nominal", "scale": {"domain": ["0.001","0.01","0.1","1"], "range": ["#1f77b4","#ff7f0e","#2ca02c","#d62728"]}, "legend": {"title": null, "orient": "bottom-right", "offset": 14, "rowPadding": -4.5, "symbolDash": [10,5], "symbolStrokeWidth": 2.5, "labelExpr": "'σ = ' + datum.label"}}
  }},
 {"data": {"name": "P"}, "transform": [{"filter": "datum.p == 'd' && datum.k == 'o'"}], "mark": {"type": "point", "shape": "circle", "filled": true, "color": "#138036", "opacity": 1, "size": 180}},
 {"data": {"name": "P"}, "transform": [{"filter": "datum.p == 'd' && datum.k == 'x'"}], "mark": {"type": "point", "shape": "M-1,-1L1,1M-1,1L1,-1", "filled": false, "color": "#111111", "strokeWidth": 1.8, "opacity": 1, "size": 170}}
]
},
{
"width": 348, "height": 200,
"title": "GCV function for trend filter - state x₂",
"encoding": {
 "x": {"field": "x", "type": "quantitative", "scale": {"type": "log", "domain": [6.0e-8, 1.33e7], "nice": false}, "axis": {"values": [1e-5, 0.01, 10, 10000, 1e7], "labelExpr": "['10⁻⁸','10⁻⁷','10⁻⁶','10⁻⁵','10⁻⁴','10⁻³','10⁻²','10⁻¹','10⁰','10¹','10²','10³','10⁴','10⁵','10⁶','10⁷'][round(log(datum.value)/LN10)+8]", "title": "λ", "titleFontStyle": "italic"}},
 "y": {"field": "y", "type": "quantitative", "scale": {"type": "log", "domain": [1e-8, 100], "nice": false}, "axis": {"values": [1e-8, 1e-5, 0.01, 10], "labelExpr": "['10⁻⁸','10⁻⁷','10⁻⁶','10⁻⁵','10⁻⁴','10⁻³','10⁻²','10⁻¹','10⁰','10¹','10²','10³','10⁴','10⁵','10⁶','10⁷'][round(log(datum.value)/LN10)+8]", "title": null}}
},
"layer": [
 {"data": {"name": "L"}, "transform": [{"filter": "datum.p == 'e'"}], "mark": {"type": "line", "strokeWidth": 2.5, "clip": true},
  "encoding": {
   "color": {"field": "s", "type": "nominal", "scale": {"domain": ["0.001","0.01","0.1","1"], "range": ["#1f77b4","#ff7f0e","#2ca02c","#d62728"]}, "legend": null}
  }},
 {"data": {"name": "P"}, "transform": [{"filter": "datum.p == 'e' && datum.k == 'o'"}], "mark": {"type": "point", "shape": "circle", "filled": true, "color": "#138036", "opacity": 1, "size": 180}},
 {"data": {"name": "P"}, "transform": [{"filter": "datum.p == 'e' && datum.k == 'x'"}], "mark": {"type": "point", "shape": "M-1,-1L1,1M-1,1L1,-1", "filled": false, "color": "#111111", "strokeWidth": 1.8, "opacity": 1, "size": 170}}
]
},
{
"width": 336, "height": 200,
"title": "GCV function for trend filter - state x₃",
"encoding": {
 "x": {"field": "x", "type": "quantitative", "scale": {"type": "log", "domain": [3.24e-8, 1.5e7], "nice": false}, "axis": {"values": [1e-5, 0.01, 10, 10000, 1e7], "labelExpr": "['10⁻⁸','10⁻⁷','10⁻⁶','10⁻⁵','10⁻⁴','10⁻³','10⁻²','10⁻¹','10⁰','10¹','10²','10³','10⁴','10⁵','10⁶','10⁷'][round(log(datum.value)/LN10)+8]", "title": "λ", "titleFontStyle": "italic"}},
 "y": {"field": "y", "type": "quantitative", "scale": {"type": "log", "domain": [1e-8, 100], "nice": false}, "axis": {"values": [1e-8, 1e-5, 0.01, 10], "labelExpr": "['10⁻⁸','10⁻⁷','10⁻⁶','10⁻⁵','10⁻⁴','10⁻³','10⁻²','10⁻¹','10⁰','10¹','10²','10³','10⁴','10⁵','10⁶','10⁷'][round(log(datum.value)/LN10)+8]", "title": null}}
},
"layer": [
 {"data": {"name": "L"}, "transform": [{"filter": "datum.p == 'f'"}], "mark": {"type": "line", "strokeWidth": 2.5, "clip": true, "strokeDash": [18,4,3,4]},
  "encoding": {
   "color": {"field": "s", "type": "nominal", "scale": {"domain": ["0.001","0.01","0.1","1"], "range": ["#1f77b4","#ff7f0e","#2ca02c","#d62728"]}, "legend": null}
  }},
 {"data": {"name": "P"}, "transform": [{"filter": "datum.p == 'f' && datum.k == 'o'"}], "mark": {"type": "point", "shape": "circle", "filled": true, "color": "#138036", "opacity": 1, "size": 180}},
 {"data": {"name": "P"}, "transform": [{"filter": "datum.p == 'f' && datum.k == 'x'"}], "mark": {"type": "point", "shape": "M-1,-1L1,1M-1,1L1,-1", "filled": false, "color": "#111111", "strokeWidth": 1.8, "opacity": 1, "size": 170}}
]
}
],
"spacing": 60, "bounds": "flush",
"resolve": {"scale": {"color": "independent", "x": "independent", "y": "independent"}, "legend": {"color": "independent"}}
}
],
"spacing": 30,
"resolve": {"scale": {"color": "independent", "strokeDash": "independent", "x": "independent", "y": "independent"}, "legend": {"color": "independent", "strokeDash": "independent"}}
}
